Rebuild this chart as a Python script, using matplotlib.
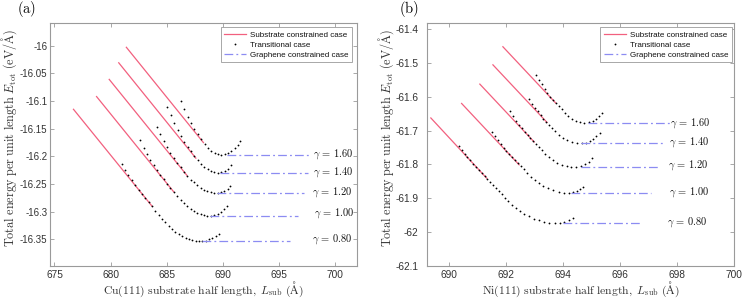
import matplotlib
matplotlib.use("Agg")
import matplotlib.pyplot as plt
from matplotlib.lines import Line2D

plt.rcParams['font.family'] = ['Liberation Sans', 'DejaVu Sans']
plt.rcParams['mathtext.fontset'] = 'cm'

gammas = ["0.80", "1.00", "1.20", "1.40", "1.60"]

# ---------------- Panel (a): Cu(111) ----------------
a_sub_x = [[676.66, 683.75], [678.72, 685.66], [679.85, 686.85], [680.70, 687.65], [681.38, 688.33]]
a_sub_y = [[-16.114, -16.291], [-16.091, -16.2645], [-16.060, -16.235], [-16.030, -16.204], [-16.002, -16.176]]

a_tr_x = [
    [681.0, 681.3, 681.6, 681.9, 682.2, 682.5, 682.8, 683.1, 683.4, 683.7, 684.0, 684.3, 684.6, 684.9,
     685.2, 685.5, 685.8, 686.1, 686.4, 686.7, 687.0, 687.3, 687.6, 687.9, 688.2, 688.5, 688.8, 689.1,
     689.4, 689.7],
    [682.65, 682.95, 683.25, 683.55, 683.85, 684.15, 684.45, 684.75, 685.05, 685.35, 685.65, 685.95,
     686.25, 686.55, 686.85, 687.15, 687.45, 687.75, 688.05, 688.35, 688.65, 688.95, 689.25, 689.55,
     689.85, 690.15, 690.4],
    [684.15, 684.45, 684.75, 685.05, 685.35, 685.65, 685.95, 686.25, 686.55, 686.85, 687.15, 687.45,
     687.75, 688.05, 688.35, 688.65, 688.95, 689.25, 689.55, 689.85, 690.15, 690.45, 690.7],
    [685.08, 685.38, 685.68, 685.98, 686.28, 686.58, 686.88, 687.18, 687.48, 687.78, 688.08, 688.38,
     688.68, 688.98, 689.28, 689.58, 689.88, 690.18, 690.48, 690.78],
    [686.29, 686.59, 686.89, 687.19, 687.49, 687.79, 688.09, 688.39, 688.69, 688.99, 689.29, 689.59,
     689.89, 690.19, 690.49, 690.79, 691.09, 691.39, 691.6],
]
a_tr_y = [
    [-16.213, -16.224, -16.234, -16.243, -16.252, -16.260, -16.268, -16.275, -16.283, -16.290, -16.298,
     -16.305, -16.313, -16.319, -16.326, -16.331, -16.336, -16.340, -16.344, -16.347, -16.350, -16.351,
     -16.352, -16.353, -16.353, -16.352, -16.350, -16.348, -16.344, -16.340],
    [-16.171, -16.184, -16.195, -16.206, -16.216, -16.225, -16.233, -16.241, -16.249, -16.257, -16.264,
     -16.272, -16.279, -16.285, -16.290, -16.295, -16.299, -16.302, -16.304, -16.306, -16.307, -16.307,
     -16.306, -16.304, -16.300, -16.295, -16.290],
    [-16.146, -16.159, -16.172, -16.183, -16.194, -16.203, -16.212, -16.220, -16.228, -16.235, -16.242,
     -16.247, -16.252, -16.257, -16.260, -16.263, -16.265, -16.266, -16.266, -16.265, -16.262, -16.258,
     -16.253],
    [-16.110, -16.125, -16.140, -16.152, -16.164, -16.174, -16.183, -16.191, -16.200, -16.207, -16.214,
     -16.219, -16.223, -16.227, -16.229, -16.230, -16.229, -16.227, -16.222, -16.216],
    [-16.100, -16.114, -16.128, -16.139, -16.150, -16.159, -16.168, -16.177, -16.184, -16.190, -16.193,
     -16.196, -16.197, -16.196, -16.194, -16.190, -16.185, -16.179, -16.173],
]

a_gr_x = [[688.2, 696.0], [688.9, 696.7], [689.5, 697.25], [689.8, 697.6], [690.4, 697.93]]
a_gr_y = [-16.353, -16.307, -16.266, -16.2295, -16.1966]
a_lab_x = [698.0, 698.18, 697.95, 698.08, 698.08]
a_lab_y = [-16.3495, -16.3027, -16.2644, -16.2284, -16.1966]

a_xticks = [675, 680, 685, 690, 695, 700]
a_yticks = [-16.0, -16.05, -16.1, -16.15, -16.2, -16.25, -16.3, -16.35]
a_yticklabels = ['-16', '-16.05', '-16.1', '-16.15', '-16.2', '-16.25', '-16.3', '-16.35']

# ---------------- Panel (b): Ni(111) ----------------
b_sub_x = [[689.34, 691.33], [690.42, 692.47], [691.06, 693.0], [691.52, 693.45], [691.87, 693.75]]
b_sub_y = [[-61.661, -61.842], [-61.618, -61.8025], [-61.5607, -61.735], [-61.5036, -61.677], [-61.450, -61.619]]

b_tr_x = [
    [690.34, 690.44, 690.54, 690.64, 690.74, 690.84, 690.94, 691.04, 691.14, 691.24, 691.34, 691.44,
     691.54, 691.64, 691.74, 691.84, 691.96, 692.08, 692.21, 692.35, 692.49, 692.64, 692.80, 692.97,
     693.14, 693.32, 693.51, 693.70, 693.88, 694.04, 694.19, 694.34],
    [691.51, 691.61, 691.71, 691.81, 691.91, 692.01, 692.11, 692.21, 692.31, 692.41, 692.51, 692.61,
     692.73, 692.86, 693.00, 693.15, 693.31, 693.48, 693.66, 693.84, 694.02, 694.19, 694.34, 694.48,
     694.60, 694.71],
    [692.15, 692.25, 692.35, 692.45, 692.55, 692.65, 692.75, 692.85, 692.95, 693.05, 693.15, 693.25,
     693.37, 693.50, 693.64, 693.79, 693.95, 694.12, 694.29, 694.46, 694.62, 694.76, 694.90, 695.03],
    [692.81, 692.91, 693.01, 693.11, 693.21, 693.31, 693.41, 693.51, 693.61, 693.73, 693.86, 694.00,
     694.15, 694.31, 694.48, 694.65, 694.80, 694.94, 695.06, 695.17, 695.28],
    [693.05, 693.15, 693.25, 693.35, 693.45, 693.55, 693.65, 693.75, 693.85, 693.95, 694.06, 694.18,
     694.31, 694.45, 694.60, 694.75, 694.90, 695.04, 695.16, 695.27, 695.37],
]
b_tr_y = [
    [-61.746, -61.757, -61.768, -61.778, -61.788, -61.798, -61.807, -61.816, -61.825, -61.834, -61.843,
     -61.852, -61.861, -61.870, -61.879, -61.889, -61.899, -61.909, -61.919, -61.929, -61.937, -61.946,
     -61.954, -61.961, -61.966, -61.971, -61.974, -61.975, -61.974, -61.971, -61.966, -61.959],
    [-61.704, -61.717, -61.729, -61.740, -61.751, -61.761, -61.770, -61.779, -61.788, -61.797, -61.806,
     -61.815, -61.826, -61.836, -61.846, -61.855, -61.864, -61.871, -61.877, -61.881, -61.884, -61.884,
     -61.882, -61.878, -61.873, -61.867],
    [-61.643, -61.657, -61.670, -61.682, -61.693, -61.703, -61.713, -61.722, -61.731, -61.740, -61.749,
     -61.758, -61.768, -61.778, -61.787, -61.795, -61.802, -61.806, -61.809, -61.809, -61.805, -61.800,
     -61.792, -61.782],
    [-61.607, -61.620, -61.632, -61.643, -61.654, -61.664, -61.674, -61.683, -61.692, -61.702, -61.712,
     -61.721, -61.728, -61.734, -61.737, -61.738, -61.736, -61.731, -61.724, -61.717, -61.707],
    [-61.534, -61.549, -61.563, -61.576, -61.588, -61.599, -61.609, -61.619, -61.628, -61.637, -61.647,
     -61.656, -61.664, -61.671, -61.675, -61.676, -61.674, -61.670, -61.664, -61.657, -61.649],
]

b_gr_x = [[693.99, 696.70], [694.28, 697.07], [694.63, 697.32], [694.63, 697.53], [694.86, 697.77]]
b_gr_y = [-61.975, -61.885, -61.809, -61.738, -61.677]
b_lab_x = [697.63, 697.71, 697.69, 697.71, 697.77]
b_lab_y = [-61.972, -61.881, -61.802, -61.733, -61.677]

b_xticks = [690, 692, 694, 696, 698, 700]
b_yticks = [-61.4, -61.5, -61.6, -61.7, -61.8, -61.9, -62.0, -62.1]
b_yticklabels = ['-61.4', '-61.5', '-61.6', '-61.7', '-61.8', '-61.9', '-62', '-62.1']

legend_labels = ["Substrate constrained case", "Transitional case", "Graphene constrained case"]

PINK = '#f2607f'
BLUE = '#8c8cf2'
SPINE = '#9a9a9a'
TXT = '#333333'

fig = plt.figure(figsize=(7.44, 2.98), dpi=100)
ax_a = fig.add_axes([50/744, 1-266/298, 307/744, 243/298])
ax_b = fig.add_axes([427/744, 1-266/298, 307/744, 243/298])


def draw(ax, sx, sy, tx, ty, gx, gy, lx, ly):
    for i in range(len(gammas)):
        ax.plot(sx[i], sy[i], color=PINK, lw=0.9, solid_capstyle='butt')
        ax.plot(tx[i], ty[i], linestyle='none', marker='o', ms=1.3, mew=0,
                color='black')
        ax.plot(gx[i], [gy[i], gy[i]], color=BLUE, lw=0.9,
                dashes=(7, 2.5, 1.5, 2.5))
        ax.text(lx[i], ly[i], r'$\gamma\,=\,%s$' % gammas[i], fontsize=7.5,
                ha='left', va='center', color='#111111')


draw(ax_a, a_sub_x, a_sub_y, a_tr_x, a_tr_y, a_gr_x, a_gr_y, a_lab_x, a_lab_y)
draw(ax_b, b_sub_x, b_sub_y, b_tr_x, b_tr_y, b_gr_x, b_gr_y, b_lab_x, b_lab_y)

ax_a.set_xlim(674.6, 702)
ax_a.set_ylim(-16.398, -15.959)
ax_a.set_xticks(a_xticks)
ax_a.set_xticklabels([str(v) for v in a_xticks])
ax_a.set_yticks(a_yticks)
ax_a.set_yticklabels(a_yticklabels)

ax_b.set_xlim(689.22, 700)
ax_b.set_ylim(-62.101, -61.381)
ax_b.set_xticks(b_xticks)
ax_b.set_xticklabels([str(v) for v in b_xticks])
ax_b.set_yticks(b_yticks)
ax_b.set_yticklabels(b_yticklabels)

for ax, ypad, ysize in ((ax_a, 2.0, 7.0), (ax_b, 6, 7.3)):
    for sp in ax.spines.values():
        sp.set_color(SPINE)
        sp.set_linewidth(0.8)
    ax.tick_params(direction='in', length=3, width=0.6, color=SPINE,
                   top=True, right=True, labelsize=7.3, labelcolor=TXT)
    ax.tick_params(axis='x', pad=3)
    ax.tick_params(axis='y', pad=ypad, labelsize=ysize)
    handles = [Line2D([], [], color=PINK, lw=0.9),
               Line2D([], [], linestyle='none', marker='o', ms=1.3, mew=0, color='black'),
               Line2D([], [], color=BLUE, lw=0.9, dashes=(7, 2.5, 1.5, 2.5))]
    leg = ax.legend(handles, legend_labels, loc='upper right',
                    bbox_to_anchor=(0.985 if ax is ax_a else 0.993, 0.982),
                    borderaxespad=0, fontsize=5.8, handlelength=2.7,
                    handletextpad=0.5, labelspacing=0.3, borderpad=0.45,
                    fancybox=False, framealpha=1)
    leg.get_frame().set_edgecolor(SPINE)
    leg.get_frame().set_linewidth(0.6)
    for t in leg.get_texts():
        t.set_color('#111111')

ax_a.set_xlabel(r'$\mathrm{Cu(111)\ substrate\ half\ length,}\ L_{\mathrm{sub}}\ (\mathrm{\AA})$',
                fontsize=8.4, color=TXT)
ax_a.set_ylabel(r'$\mathrm{Total\ energy\ per\ unit\ length}\ E_{\mathrm{tot}}\ (\mathrm{eV/\AA})$',
                fontsize=8.8, color=TXT)
ax_b.set_xlabel(r'$\mathrm{Ni(111)\ substrate\ half\ length,}\ L_{\mathrm{sub}}\ (\mathrm{\AA})$',
                fontsize=8.4, color=TXT)
ax_b.set_ylabel(r'$\mathrm{Total\ energy\ per\ unit\ length}\ E_{\mathrm{tot}}\ (\mathrm{eV/\AA})$',
                fontsize=8.8, color=TXT)
ax_a.xaxis.set_label_coords(0.5, -0.056)
ax_b.xaxis.set_label_coords(0.5, -0.056)
ax_a.yaxis.set_label_coords(-0.1026, 0.527)
ax_b.yaxis.set_label_coords(-0.100, 0.527)

fig.text(17/744, 1-9/298, r'$\mathrm{(a)}$', fontsize=10.5, va='center', ha='left')
fig.text(399/744, 1-9/298, r'$\mathrm{(b)}$', fontsize=10.5, va='center', ha='left')

fig.savefig('out.png', dpi=100)
